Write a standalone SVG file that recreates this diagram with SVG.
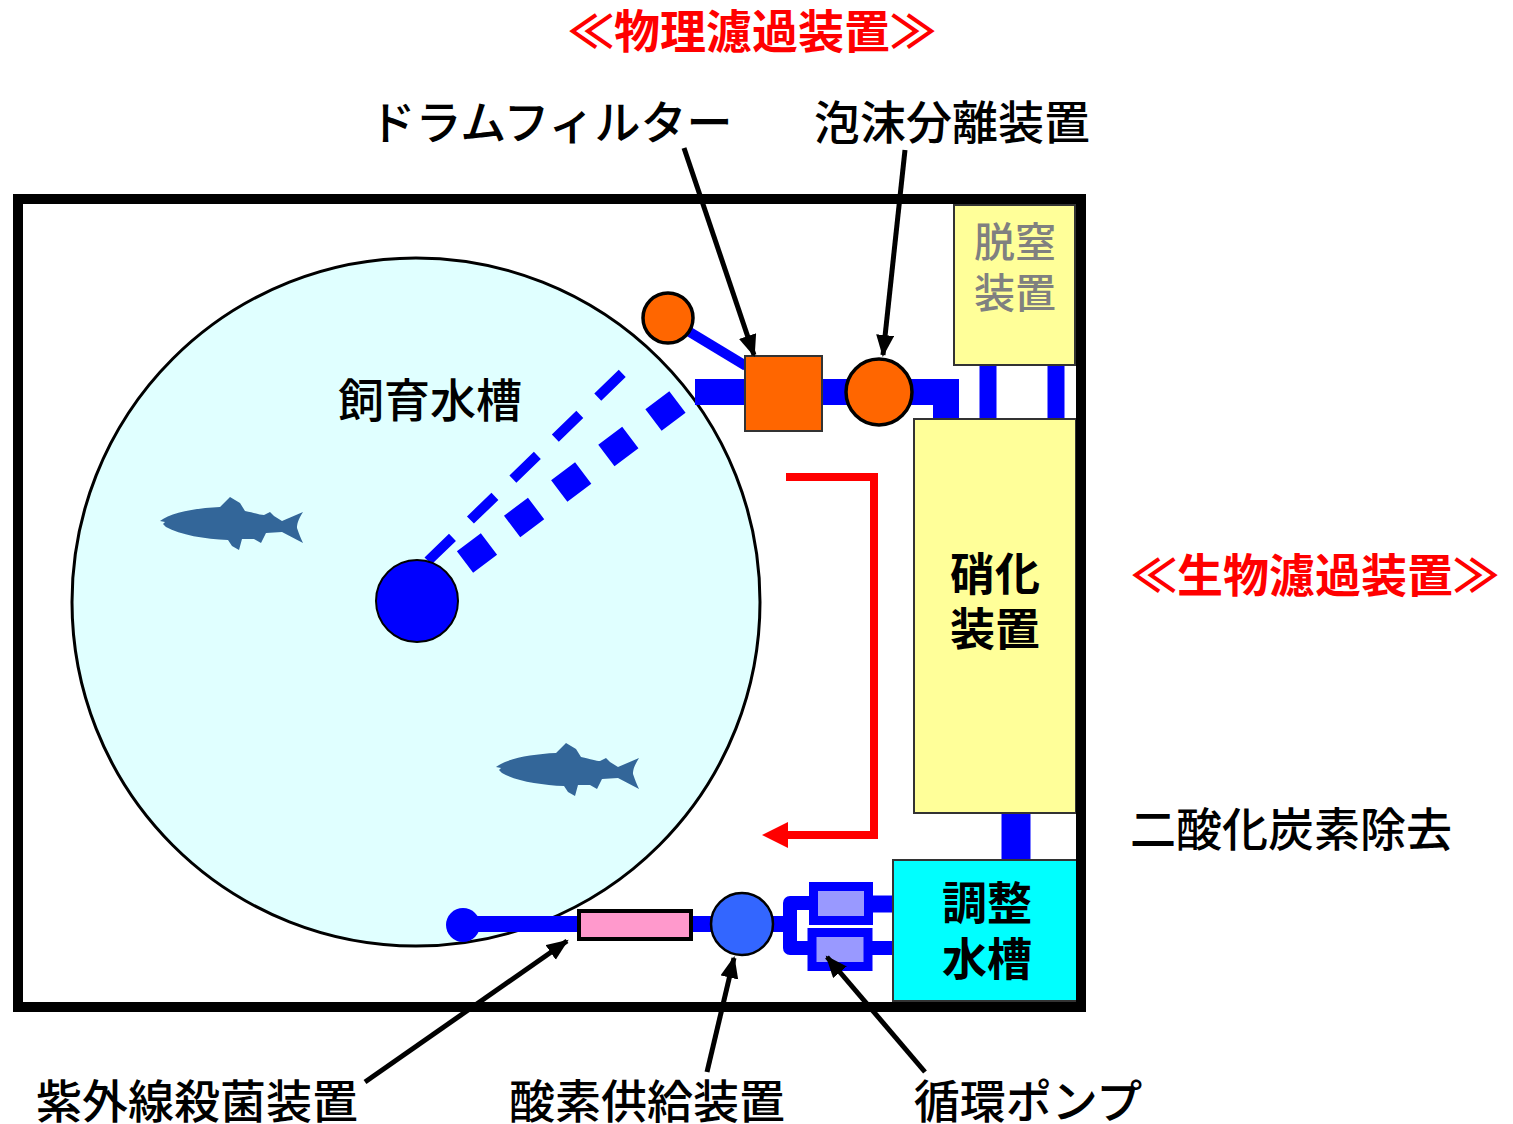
<svg xmlns="http://www.w3.org/2000/svg" width="1513" height="1124" viewBox="0 0 1513 1124">
  <style>
    .lbl { font-family: "Noto Sans CJK JP", "Noto Sans", sans-serif; font-size: 46px; font-weight: 500; fill: #000; text-anchor: middle; dominant-baseline: central; }
    .title { font-family: "Noto Sans CJK JP", "Noto Sans", sans-serif; font-size: 46px; font-weight: 700; fill: #FF0000; text-anchor: middle; dominant-baseline: central; }
    .box { font-family: "Noto Sans CJK JP", "Noto Sans", sans-serif; font-size: 45px; font-weight: 700; fill: #000; text-anchor: middle; dominant-baseline: central; }
    .grey { font-size: 41px; font-weight: 500; fill: #808080; }
    .pipe { stroke: #0000FF; fill: none; }
    .ptr { stroke: #000; stroke-width: 5; fill: none; marker-end: url(#head); }
    .unit { stroke: #333; stroke-width: 2; }
  </style>
  <defs>
    <marker id="head" markerUnits="userSpaceOnUse" markerWidth="24" markerHeight="20" refX="20" refY="9" orient="auto">
      <path d="M0,0 L22,9 L0,18 Z" fill="#000"/>
    </marker>
    <path id="trout" fill="#336699" d="M0,0 C10,-8 35,-13 60,-14 L70,-24 L80,-18 L85,-10 C95,-8 100,-6 104,-6 L110,-9 L114,-5 L122,0 L143,-9 C138,-1 137,3 137,7 C139,13 141,18 143,22 L122,11 L106,12 L101,22 L94,18 L82,18 L79,29 L72,25 L68,19 C45,18 20,14 6,6 L3,3 L5,1 Z"/>
  </defs>

  <rect width="1513" height="1124" fill="#FFFFFF"/>

  <!-- rearing tank -->
  <g id="rearing-tank">
    <circle cx="416" cy="602" r="344" fill="#E0FFFF" stroke="#000" stroke-width="3"/>
    <use href="#trout" transform="translate(160,521)"/>
    <use href="#trout" transform="translate(496,767)"/>
    <text class="lbl" x="430" y="397">飼育水槽</text>
  </g>

  <g id="connectors">
    <!-- outlet lines from the tank centre -->
    <line class="pipe" x1="428" y1="561" x2="631" y2="365" stroke-width="10" stroke-dasharray="34 25"/>
    <line class="pipe" x1="465" y1="562" x2="680" y2="400" stroke-width="27" stroke-dasharray="30 29"/>
    <!-- upper piping -->
    <line class="pipe" x1="688" y1="331" x2="746" y2="366" stroke-width="10"/>
    <polyline class="pipe" points="695,392 946,392 946,420" stroke-width="26" stroke-linejoin="miter"/>
    <line class="pipe" x1="988" y1="365" x2="988" y2="420" stroke-width="17"/>
    <line class="pipe" x1="1056" y1="365" x2="1056" y2="420" stroke-width="17"/>
    <line class="pipe" x1="1016" y1="812" x2="1016" y2="861" stroke-width="29"/>
    <!-- return piping -->
    <line class="pipe" x1="463" y1="924" x2="790" y2="924" stroke-width="16"/>
    <path class="pipe" d="M812,903 H790 V948 H812" stroke-width="14" stroke-linejoin="round"/>
    <line class="pipe" x1="870" y1="904" x2="894" y2="904" stroke-width="17"/>
    <line class="pipe" x1="870" y1="948" x2="894" y2="948" stroke-width="14"/>
    <!-- flow direction -->
    <polyline points="786,477 874,477 874,835 786,835" fill="none" stroke="#FF0000" stroke-width="8"/>
    <polygon points="762,835 788,822 788,848" fill="#FF0000"/>
  </g>

  <g id="inlet">
    <circle cx="417" cy="601" r="41" fill="#0000FF" stroke="#000" stroke-width="2"/>
  </g>
  <g id="outlet-ball">
    <circle cx="668" cy="318" r="25" fill="#FF6600" stroke="#000" stroke-width="3.5"/>
  </g>
  <g id="drum-filter">
    <rect class="unit" x="745" y="356" width="77" height="75" fill="#FF6600"/>
  </g>
  <g id="foam-separator">
    <circle cx="879" cy="392" r="33" fill="#FF6600" stroke="#000" stroke-width="3.5"/>
  </g>
  <g id="denitrification">
    <rect class="unit" x="954" y="205" width="121" height="160" fill="#FFFF99"/>
    <text class="box grey" x="1015" y="239">脱窒</text>
    <text class="box grey" x="1015" y="290">装置</text>
  </g>
  <g id="nitrification">
    <rect class="unit" x="914" y="419" width="162" height="394" fill="#FFFF99"/>
    <text class="box" x="995" y="571">硝化</text>
    <text class="box" x="995" y="626">装置</text>
  </g>
  <g id="sump">
    <rect class="unit" x="893" y="860" width="186" height="141" fill="#00FFFF"/>
    <text class="box" x="987" y="900">調整</text>
    <text class="box" x="987" y="956">水槽</text>
  </g>
  <g id="pumps">
    <rect x="813.5" y="886.5" width="55" height="34" fill="#9999FF" stroke="#0000FF" stroke-width="9"/>
    <rect x="812" y="932.5" width="56" height="34" fill="#9999FF" stroke="#0000FF" stroke-width="9"/>
  </g>
  <g id="return-end">
    <circle cx="463" cy="925" r="17" fill="#0000FF"/>
  </g>
  <g id="uv-steriliser">
    <rect x="579" y="911" width="112" height="28" fill="#FF99CC" stroke="#000" stroke-width="4"/>
  </g>
  <g id="oxygen-supply">
    <circle cx="742" cy="924" r="31" fill="#3366FF" stroke="#000" stroke-width="2.5"/>
  </g>

  <!-- facility outline -->
  <rect x="18" y="199" width="1063" height="808" fill="none" stroke="#000" stroke-width="10"/>

  <g id="labels">
    <text class="title" x="752" y="28">≪物理濾過装置≫</text>
    <text class="title" x="1315" y="572">≪生物濾過装置≫</text>
    <text class="lbl" x="551" y="119">ドラムフィルター</text>
    <text class="lbl" x="952" y="119">泡沫分離装置</text>
    <text class="lbl" x="1291" y="826">二酸化炭素除去</text>
    <text class="lbl" x="197" y="1098">紫外線殺菌装置</text>
    <text class="lbl" x="647" y="1098">酸素供給装置</text>
    <text class="lbl" x="1028" y="1098">循環ポンプ</text>
  </g>

  <g id="pointers">
    <line class="ptr" x1="684" y1="148" x2="754" y2="355"/>
    <line class="ptr" x1="905" y1="150" x2="883" y2="355"/>
    <line class="ptr" x1="365" y1="1082" x2="567" y2="941"/>
    <line class="ptr" x1="707" y1="1072" x2="734" y2="958"/>
    <line class="ptr" x1="925" y1="1072" x2="827" y2="957"/>
  </g>
</svg>
